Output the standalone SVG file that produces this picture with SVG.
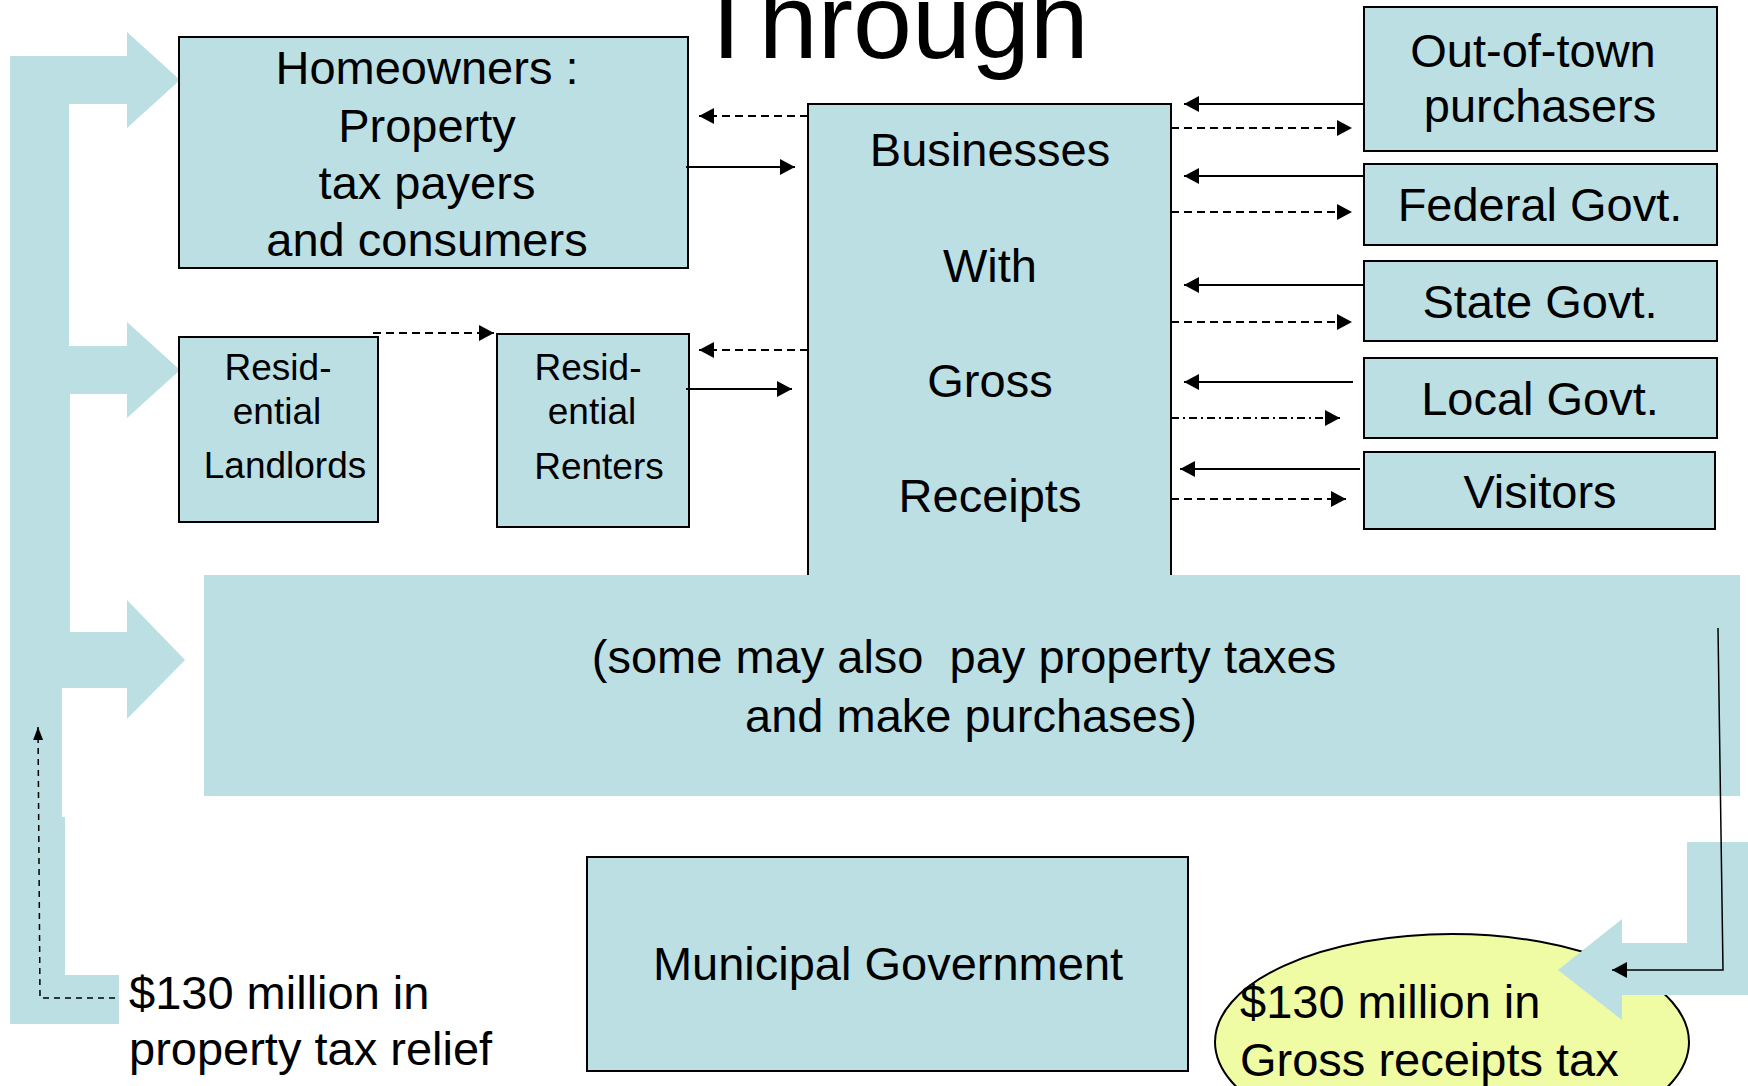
<svg xmlns="http://www.w3.org/2000/svg" width="1748" height="1086" viewBox="0 0 1748 1086">
<style>
.box{fill:#BBDFE3;stroke:#000;stroke-width:2}
.band{fill:#BBDFE3}
.t{font-family:"Liberation Sans",Arial,sans-serif;font-size:47px;fill:#000}
.s{font-family:"Liberation Sans",Arial,sans-serif;font-size:37px;fill:#000}
.m{text-anchor:middle}
.c{fill:none;stroke:#000;stroke-width:2}
.d{stroke-dasharray:8 5}
.dd{stroke-dasharray:8 4 2 4}
.thin{stroke-width:1.5}
</style>
<defs>
<marker id="ah" markerUnits="userSpaceOnUse" markerWidth="16" markerHeight="16" refX="15" refY="8" orient="auto">
<path d="M0,0 L15,8 L0,16 Z" fill="#000"/>
</marker>
<marker id="ahs" markerUnits="userSpaceOnUse" markerWidth="14" markerHeight="12" refX="13" refY="5" orient="auto">
<path d="M0,0 L13,5 L0,10 Z" fill="#000"/>
</marker>
</defs>
<rect width="1748" height="1086" fill="#fff"/>

<g id="title">
<text class="t" x="694" y="58" style="font-size:106px">Through</text>
</g>

<g id="left-arrow">
<path class="band" d="M10,56 L127,56 L127,32 L180,80 L127,128 L127,104 L69,104 L69,346 L127,346 L127,322 L180,370 L127,418 L127,394 L70,394 L70,632 L127,632 L127,600 L185,660 L127,719 L127,688 L62,688 L62,817 L65,817 L65,975 L119,975 L119,1024 L10,1024 Z"/>
</g>

<g id="homeowners">
<rect class="box" x="179" y="37" width="509" height="231"/>
<text class="t m" x="427" y="84">Homeowners :</text>
<text class="t m" x="427" y="142">Property</text>
<text class="t m" x="427" y="199">tax payers</text>
<text class="t m" x="427" y="256">and consumers</text>
</g>

<g id="landlords">
<rect class="box" x="179" y="337" width="199" height="185"/>
<text class="s m" x="278" y="380">Resid-</text>
<text class="s m" x="277" y="424">ential</text>
<text class="s m" x="285" y="478">Landlords</text>
</g>

<g id="renters">
<rect class="box" x="497" y="334" width="192" height="193"/>
<text class="s m" x="588" y="380">Resid-</text>
<text class="s m" x="592" y="424">ential</text>
<text class="s m" x="599" y="479">Renters</text>
</g>

<g id="businesses">
<path class="box" d="M808,576 L808,104 L1171,104 L1171,576"/>
<rect class="band" x="204" y="575" width="1536" height="221"/>
<text class="t m" x="990" y="166">Businesses</text>
<text class="t m" x="990" y="282">With</text>
<text class="t m" x="990" y="397">Gross</text>
<text class="t m" x="990" y="512">Receipts</text>
<text class="t m" x="964" y="673" xml:space="preserve">(some may also  pay property taxes</text>
<text class="t m" x="971" y="732">and make purchases)</text>
</g>

<g id="outoftown">
<rect class="box" x="1364" y="7" width="353" height="144"/>
<text class="t m" x="1533" y="67">Out-of-town</text>
<text class="t m" x="1540" y="122">purchasers</text>
</g>

<g id="federal">
<rect class="box" x="1364" y="164" width="353" height="81"/>
<text class="t m" x="1540" y="221">Federal Govt.</text>
</g>

<g id="state">
<rect class="box" x="1364" y="261" width="353" height="80"/>
<text class="t m" x="1540" y="318">State Govt.</text>
</g>

<g id="local">
<rect class="box" x="1364" y="358" width="353" height="80"/>
<text class="t m" x="1540" y="415">Local Govt.</text>
</g>

<g id="visitors">
<rect class="box" x="1364" y="452" width="351" height="77"/>
<text class="t m" x="1540" y="508">Visitors</text>
</g>

<g id="municipal">
<rect class="box" x="587" y="857" width="601" height="214"/>
<text class="t m" x="888" y="980">Municipal Government</text>
</g>

<g id="grt">
<ellipse cx="1452" cy="1042" rx="237" ry="108" fill="#F0FCA3" stroke="#000" stroke-width="2"/>
<path class="band" d="M1748,842 L1687,842 L1687,943 L1622,943 L1622,919 L1558,970 L1622,1020 L1622,995 L1748,995 Z"/>
<text class="t" x="1240" y="1018">$130 million in</text>
<text class="t" x="1240" y="1076">Gross receipts tax</text>
</g>

<g id="relief">
<text class="t" x="129" y="1009">$130 million in</text>
<text class="t" x="129" y="1065">property tax relief</text>
</g>

<g id="connectors">
<path class="c d" d="M808,116 L699,116" marker-end="url(#ah)"/>
<path class="c" d="M686,167 L795,167" marker-end="url(#ah)"/>
<path class="c d" d="M373,333 L494,333" marker-end="url(#ah)"/>
<path class="c d" d="M808,350 L699,350" marker-end="url(#ah)"/>
<path class="c" d="M686,389 L792,389" marker-end="url(#ah)"/>
<path class="c" d="M1364,104 L1184,104" marker-end="url(#ah)"/>
<path class="c d" d="M1171,128 L1352,128" marker-end="url(#ah)"/>
<path class="c" d="M1364,176 L1184,176" marker-end="url(#ah)"/>
<path class="c d" d="M1171,212 L1352,212" marker-end="url(#ah)"/>
<path class="c" d="M1364,285 L1184,285" marker-end="url(#ah)"/>
<path class="c d" d="M1171,322 L1352,322" marker-end="url(#ah)"/>
<path class="c" d="M1353,382 L1184,382" marker-end="url(#ah)"/>
<path class="c dd" d="M1171,418 L1340,418" marker-end="url(#ah)"/>
<path class="c" d="M1360,469 L1180,469" marker-end="url(#ah)"/>
<path class="c d" d="M1171,499 L1346,499" marker-end="url(#ah)"/>
<path class="c thin" d="M1718,628 L1723,970 L1612,970" marker-end="url(#ah)"/>
<path class="c thin" style="stroke-dasharray:6 5" d="M115,998 L40,998 L38,727" marker-end="url(#ahs)"/>
</g>
</svg>
